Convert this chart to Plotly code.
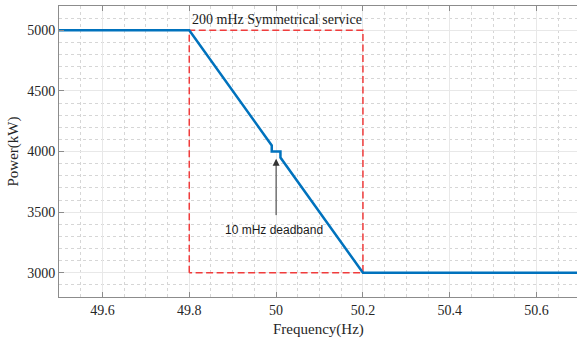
import plotly.graph_objects as go

# Droop characteristic with a central deadband
freq = [49.5, 49.8, 49.99, 49.99, 50.01, 50.01, 50.2, 50.7]
power = [5000, 5000, 4050, 4000, 4000, 3950, 3000, 3000]

# Symmetrical service envelope (dashed box)
band_freq = [49.8, 49.8, 50.2, 50.2, 49.8]
band_power = [3000, 5000, 5000, 3000, 3000]

x_ticks = [49.6, 49.8, 50.0, 50.2, 50.4, 50.6]
y_ticks = [3000, 3500, 4000, 4500, 5000]

serif = "Liberation Serif, Times New Roman, serif"
sans = "Liberation Sans, Arial, sans-serif"
axis_grey = "#8c8c8c"

fig = go.Figure()
fig.add_trace(go.Scatter(
    x=band_freq, y=band_power, mode="lines",
    line=dict(color="#f03c3c", width=1.5, dash="7px,3.5px"),
    hoverinfo="skip", showlegend=False))
fig.add_trace(go.Scatter(
    x=freq, y=power, mode="lines",
    line=dict(color="#0072BD", width=2.5),
    showlegend=False))

fig.add_annotation(
    x=49.8, y=5088, xref="x", yref="y", text="200 mHz Symmetrical service",
    showarrow=False, xanchor="left", yanchor="middle", xshift=1,
    font=dict(family=serif, size=14, color="#1a1a1a"))

# deadband pointer
fig.add_annotation(
    x=50.0, y=3940, ax=50.0, ay=3463, xref="x", yref="y",
    axref="x", ayref="y", text="", showarrow=True,
    arrowhead=2, arrowsize=1.4, arrowwidth=1, arrowcolor="#333333")
fig.add_annotation(
    x=49.995, y=3353, xref="x", yref="y", text="10 mHz deadband",
    showarrow=False, xanchor="center", yanchor="middle",
    font=dict(family=sans, size=12, color="#1a1a1a"))

# axis titles
fig.add_annotation(
    x=0, y=0.5, xref="paper", yref="paper", text="Power(kW)",
    textangle=-90, showarrow=False, xanchor="center", yanchor="middle",
    xshift=-46, font=dict(family=serif, size=15, color="#262626"))
fig.add_annotation(
    x=0.5, y=0, xref="paper", yref="paper", text="Frequency(Hz)",
    showarrow=False, xanchor="center", yanchor="middle",
    yshift=-32, font=dict(family=serif, size=15, color="#262626"))

fig.update_xaxes(
    range=[49.5, 50.693], tickvals=x_ticks,
    ticktext=["49.6", "49.8", "50", "50.2", "50.4", "50.6"],
    showline=True, linecolor=axis_grey, linewidth=1, mirror="ticks",
    ticks="inside", ticklen=5, tickcolor=axis_grey,
    showgrid=True, gridcolor="#e8e8e8", gridwidth=1,
    minor=dict(dtick=0.05, tick0=49.5, showgrid=True, griddash="dot",
               gridcolor="#d6d6d6", gridwidth=1, ticks=""),
    zeroline=False,
    tickfont=dict(family=serif, size=14, color="#262626"))
fig.update_yaxes(
    range=[2800, 5200], tickvals=y_ticks,
    showline=True, linecolor=axis_grey, linewidth=1, mirror=False,
    ticks="inside", ticklen=5, tickcolor=axis_grey,
    showgrid=True, gridcolor="#e8e8e8", gridwidth=1,
    minor=dict(dtick=100, tick0=2800, showgrid=True, griddash="dot",
               gridcolor="#d6d6d6", gridwidth=1, ticks=""),
    zeroline=False,
    tickfont=dict(family=serif, size=14, color="#262626"))

fig.update_layout(
    width=577, height=342,
    margin=dict(l=59, r=0, t=6, b=45),
    paper_bgcolor="white", plot_bgcolor="white")

fig.write_html("out.html")
